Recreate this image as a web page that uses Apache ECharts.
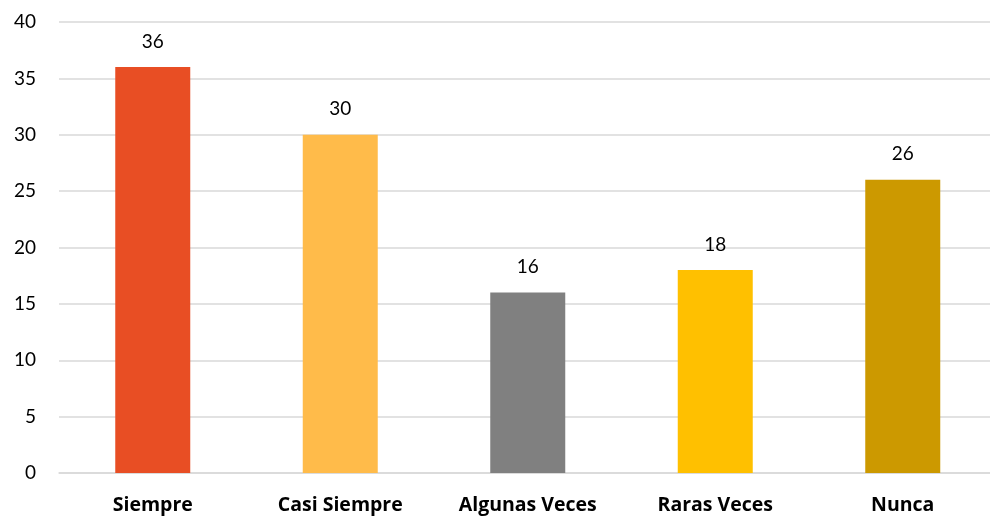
<!DOCTYPE html>
<html>
<head>
<meta charset="utf-8">
<script src="https://cdn.jsdelivr.net/npm/echarts@6/dist/echarts.min.js"></script>
<style>html,body{margin:0;padding:0;background:#fff;overflow:hidden;}#c{width:997px;height:519px;}</style>
</head>
<body>
<div id="c"></div>
<script>
const categories = ['Siempre', 'Casi Siempre', 'Algunas Veces', 'Raras Veces', 'Nunca'];
const values = [36, 30, 16, 18, 26];
const colors = ['#E84E24', '#FFBB4A', '#808080', '#FFC000', '#CC9900'];
const yTicks = {min: 0, max: 40, interval: 5};

const chart = echarts.init(document.getElementById('c'));
chart.setOption({
  animation: false,
  grid: {left: 59, top: 22, bottom: 46, right: 0.5, containLabel: false},
  xAxis: {
    type: 'category',
    data: categories,
    axisLine: {lineStyle: {color: '#D9D9D9', width: 1.5}},
    axisTick: {show: false},
    axisLabel: {color: '#000', fontFamily: '"Open Sans", Lato, sans-serif', fontWeight: 'bold', fontSize: 19.5, margin: 22}
  },
  yAxis: {
    type: 'value',
    min: yTicks.min, max: yTicks.max, interval: yTicks.interval,
    axisLine: {show: false},
    axisTick: {show: false},
    splitLine: {lineStyle: {color: '#D9D9D9', width: 1.5}},
    axisLabel: {color: '#000', fontFamily: 'Lato, "Open Sans", sans-serif', fontSize: 19, margin: 23}
  },
  series: [{
    type: 'bar',
    barWidth: 75,
    data: values.map((v, i) => ({value: v, itemStyle: {color: colors[i]}})),
    label: {show: true, position: 'top', distance: 16, color: '#000', fontFamily: 'Lato, "Open Sans", sans-serif', fontSize: 19}
  }]
});
</script>
</body>
</html>
